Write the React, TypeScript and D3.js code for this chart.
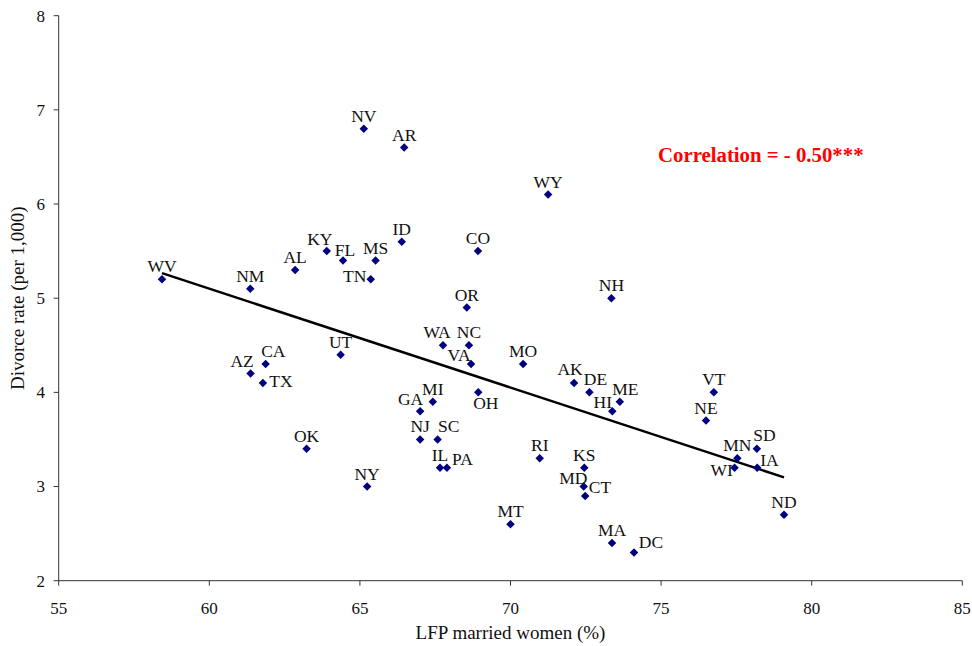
import React from "react";
import * as d3 from "d3";

const states = ["WV","NM","AL","KY","FL","MS","TN","ID","NV","AR","WY","CO","OR","NH","UT","WA","NC","VA","MO","AK","DE","ME","HI","OH","MI","GA","NJ","SC","IL","PA","OK","NY","RI","KS","MD","CT","MT","MA","DC","AZ","CA","TX","VT","NE","SD","MN","WI","IA","ND"];
const lfp = [58.43,61.36,62.85,63.9,64.44,65.52,65.36,66.39,65.13,66.47,71.25,68.92,68.55,73.35,64.36,67.76,68.62,68.69,70.42,72.11,72.62,73.63,73.38,68.93,67.42,67.0,67.0,67.58,67.66,67.89,63.23,65.24,70.97,72.45,72.43,72.48,70.0,73.37,74.1,61.37,61.87,61.78,76.75,76.49,78.18,77.53,77.44,78.19,79.08];
const divorce = [5.2,5.1,5.3,5.5,5.4,5.4,5.2,5.6,6.8,6.6,6.1,5.5,4.9,5.0,4.4,4.5,4.5,4.3,4.3,4.1,4.0,3.9,3.8,4.0,3.9,3.8,3.5,3.5,3.2,3.2,3.4,3.0,3.3,3.2,3.0,2.9,2.6,2.4,2.3,4.2,4.3,4.1,4.0,3.7,3.4,3.3,3.2,3.2,2.7];
const xTicks = [55,60,65,70,75,80,85];
const yTicks = [2,3,4,5,6,7,8];
const xTitle = "LFP married women (%)";
const yTitle = "Divorce rate (per 1,000)";
const corrText = "Correlation = - 0.50***";

// label placement offsets (layout only): [dx of label centre, dy of baseline]
const labelOffset: Record<string, [number, number]> = {
  KY: [-7, -6], FL: [2, -5], TN: [-16, 2.5], WA: [-6, -7], VA: [-12, -3],
  AK: [-4, -8], DE: [6, -7], ME: [5.5, -7], HI: [-9.5, -3], OH: [7.5, 17],
  GA: [-9.5, -6], SC: [11, -7], PA: [15.5, -3], MD: [-10.4, -3], CT: [14.7, -3],
  DC: [17, -4], AZ: [-8.5, -7], CA: [7.7, -7], TX: [18, 4], SD: [7.5, -8],
  WI: [-13, 8], IA: [12.3, -2],
};

const W = 972, H = 646;
const FONT = '"Liberation Serif", "Times New Roman", serif';

export default function App() {
  const x = d3.scaleLinear().domain([55, 85]).range([58.7, 962.3]);
  const y = d3.scaleLinear().domain([2, 8]).range([580.7, 15.7]);
  const data = states.map((s, i) => ({ s, x: lfp[i], y: divorce[i] }));

  const mx = d3.mean(lfp)!, my = d3.mean(divorce)!;
  const sxy = d3.sum(data, d => (d.x - mx) * (d.y - my));
  const sxx = d3.sum(data, d => (d.x - mx) ** 2);
  const b = sxy / sxx, a = my - b * mx;
  const [x0, x1] = d3.extent(lfp) as [number, number];
  const line = d3.line<number>().x(v => x(v)).y(v => y(a + b * v));

  const diamond = d3.symbol().type(d3.symbolSquare).size(36)()!;

  return (
    <svg width={W} height={H} style={{ position: "absolute", left: 0, top: 0, background: "#fff" }} fontFamily={FONT}>
      {/* axes */}
      <line x1={x(55)} x2={x(85)} y1={y(2)} y2={y(2)} stroke="#333" strokeWidth={1} />
      <line x1={x(55)} x2={x(55)} y1={y(2)} y2={y(8)} stroke="#333" strokeWidth={1} />
      {xTicks.map(t => (
        <g key={"xt" + t}>
          <line x1={x(t)} x2={x(t)} y1={y(2)} y2={y(2) + 5} stroke="#333" />
          <text x={x(t)} y={614} textAnchor="middle" fontSize={17} fill="#111">{t}</text>
        </g>
      ))}
      {yTicks.map(t => (
        <g key={"yt" + t}>
          <line x1={x(55) - 5} x2={x(55)} y1={y(t)} y2={y(t)} stroke="#333" />
          <text x={45} y={y(t)} dy="0.35em" textAnchor="end" fontSize={17} fill="#111">{t}</text>
        </g>
      ))}
      <text x={(x(55) + x(85)) / 2} y={639} textAnchor="middle" fontSize={19} fill="#111">{xTitle}</text>
      <text transform={`translate(24,${(y(2) + y(8)) / 2}) rotate(-90)`} textAnchor="middle" fontSize={19} fill="#111">{yTitle}</text>

      {/* trend line */}
      <path d={line([x0, x1])!} stroke="#000" strokeWidth={2.5} fill="none" />

      {/* points */}
      {data.map(d => (
        <path key={"p" + d.s} d={diamond} transform={`translate(${x(d.x)},${y(d.y)}) rotate(45)`} fill="#000080" />
      ))}
      {data.map(d => {
        const off = labelOffset[d.s] || [0, -7];
        return (
          <text key={"l" + d.s} x={x(d.x) + off[0]} y={y(d.y) + off[1]} textAnchor="middle" fontSize={17.5} fill="#111">{d.s}</text>
        );
      })}

      <text x={658} y={162} fontSize={20.8} fontWeight="bold" fill="#ff0000">{corrText}</text>
    </svg>
  );
}
